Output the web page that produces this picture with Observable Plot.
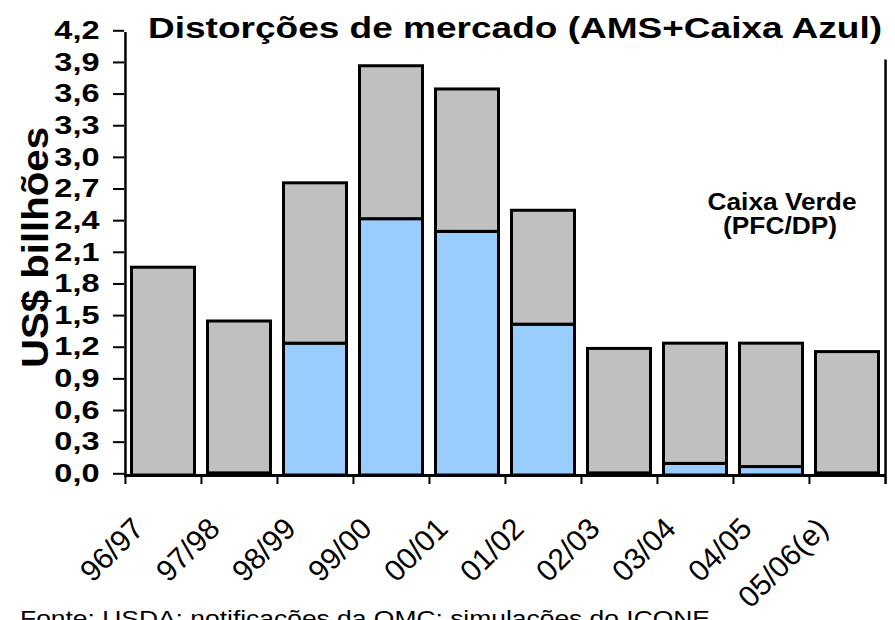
<!DOCTYPE html>
<html><head><meta charset="utf-8">
<script src="https://cdn.jsdelivr.net/npm/d3@7"></script>
<script src="https://cdn.jsdelivr.net/npm/@observablehq/plot@0.6"></script>
<style>
html,body{margin:0;padding:0;background:#fff;overflow:hidden;}
#chart{position:relative;width:895px;height:620px;}
#chart svg{position:absolute;left:0;top:0;}
</style></head><body><div id="chart"></div>
<script>
// ---- data ----
const categories = ["96/97","97/98","98/99","99/00","00/01","01/02","02/03","03/04","04/05","05/06(e)"];
const caixaAzul  = [0, 0.02, 1.25, 2.43, 2.31, 1.43, 0.02, 0.11, 0.08, 0.02];
const caixaVerde = [1.97, 1.44, 1.52, 1.45, 1.35, 1.08, 1.18, 1.14, 1.17, 1.15];
const seriesNames = ["AMS+Caixa Azul", "Caixa Verde (PFC/DP)"];
const seriesColors = ["#99CCFF", "#C0C0C0"];
const yTicks = [0, 0.3, 0.6, 0.9, 1.2, 1.5, 1.8, 2.1, 2.4, 2.7, 3.0, 3.3, 3.6, 3.9, 4.2];
const title = "Distorções de mercado (AMS+Caixa Azul)";
const yLabel = "US$ billhões";
const annotation = ["Caixa Verde", "(PFC/DP)"];
const caption = "Fonte: USDA; notificações da OMC; simulações do ICONE";

// ---- layout ----
const FONT = '"Liberation Sans", Arial, Helvetica, sans-serif';
const W = 895, H = 620, mL = 124, mR = 10, mT = 32, mB = 145;
const yMax = 4.2, rightLineTop = 3.94;
const bw = (W - mL - mR) / categories.length;
const fmt = d => d.toFixed(1).replace(".", ",");

const rows = categories.flatMap((c, i) => [
  {cat: c, series: seriesNames[0], value: caixaAzul[i]},
  {cat: c, series: seriesNames[1], value: caixaVerde[i]}
]);

const plot = Plot.plot({
  width: W, height: H,
  marginLeft: mL, marginRight: mR, marginTop: mT, marginBottom: mB,
  style: {fontFamily: FONT, background: "white", color: "black", overflow: "visible"},
  x: {domain: categories, padding: 0, axis: null},
  y: {domain: [0, yMax]},
  color: {domain: seriesNames, range: seriesColors},
  marks: [
    Plot.barY(rows, {x: "cat", y: "value", fill: "series", stroke: "black", strokeWidth: 3, insetLeft: 6.5, insetRight: 6.5}),
    Plot.ruleY([0], {stroke: "black", strokeWidth: 3}),
    Plot.ruleX([categories[0]], {x: d => d, dx: -bw / 2, stroke: "black", strokeWidth: 2.5}),
    Plot.ruleX(categories, {x: d => d, dx: -bw / 2, y1: 0, y2: 0, insetBottom: -9, stroke: "black", strokeWidth: 2}),
    Plot.ruleX([categories[categories.length - 1]], {x: d => d, dx: bw / 2, y1: rightLineTop, y2: 0, insetBottom: -9, stroke: "black", strokeWidth: 2.5}),
    Plot.axisY({ticks: yTicks, tickSize: 11, tickPadding: 14, tickFormat: fmt, fontSize: 25.6, fontWeight: "bold", strokeWidth: 2, label: null, dy: -1.7}),
    Plot.text(categories, {x: d => d, y: 0, text: d => d, rotate: -45, textAnchor: "end", lineAnchor: "bottom", dx: -18, dy: 55, fontSize: 30, fill: "black"})
  ]
});

// widen the bold y tick labels like the reference (keep Plot's em offsets)
const tickText = new Set(yTicks.map(fmt));
plot.querySelectorAll("text").forEach(t => {
  if (!tickText.has(t.textContent.trim())) return;
  let tr = t.getAttribute("transform") || "";
  const xa = t.getAttribute("x");
  if (xa != null && !/em$/.test(xa)) { tr += ` translate(${+xa},0)`; t.removeAttribute("x"); }
  const ya = t.getAttribute("y");
  if (ya != null && !/em$/.test(ya)) { tr += ` translate(0,${+ya})`; t.removeAttribute("y"); }
  t.setAttribute("transform", tr + " scale(1.27,1)");
});

const chart = document.getElementById("chart");
chart.appendChild(plot);

// ---- text overlay (title, axis label, annotation, caption) ----
const labels = [
  {text: title, x: 148, y: 38, anchor: "start", size: 29, weight: "bold", len: 734},
  {text: annotation[0], x: 782, y: 209.5, anchor: "middle", size: 24, weight: "bold", len: 149},
  {text: annotation[1], x: 780, y: 234, anchor: "middle", size: 24, weight: "bold", len: 114},
  {text: yLabel, x: 48, y: 247.5, anchor: "middle", size: 36, weight: "bold", len: 241, rotate: -90},
  {text: caption, x: 20, y: 625.8, anchor: "start", size: 22, weight: "normal", len: 690}
];
const ov = d3.create("svg").attr("width", W).attr("height", H)
  .style("pointer-events", "none").style("overflow", "hidden")
  .attr("font-family", FONT);
ov.selectAll("text").data(labels).join("text")
  .attr("transform", d => `translate(${d.x},${d.y})` + (d.rotate ? ` rotate(${d.rotate})` : ""))
  .attr("text-anchor", d => d.anchor)
  .attr("font-size", d => d.size)
  .attr("font-weight", d => d.weight)
  .attr("textLength", d => d.len)
  .attr("lengthAdjust", "spacingAndGlyphs")
  .attr("fill", "black")
  .text(d => d.text);
chart.appendChild(ov.node());
</script></body></html>
